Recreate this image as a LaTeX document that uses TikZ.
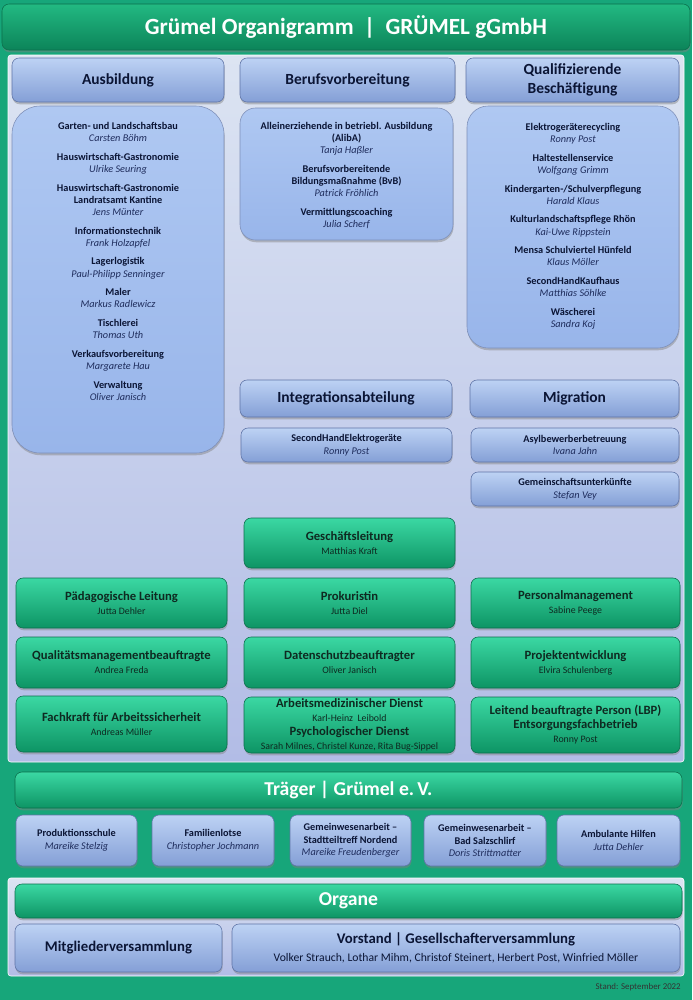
\documentclass[tikz,border=0pt]{standalone}
\usepackage{fontspec}
\setmainfont{Carlito}
\usepackage{tikz}
\usetikzlibrary{shadows}

\definecolor{seite}{HTML}{17A67A}
\definecolor{gruenOben}{HTML}{3BD8A3}
\definecolor{gruenMitte}{HTML}{18B383}
\definecolor{gruenUnten}{HTML}{0D9464}
\definecolor{gruenRand}{HTML}{0B6F4C}
\definecolor{titelOben}{HTML}{22B982}
\definecolor{titelUnten}{HTML}{0C8459}
\definecolor{blauOben}{HTML}{BDD2F4}
\definecolor{blauUnten}{HTML}{849FD6}
\definecolor{blauRand}{HTML}{5E73A6}
\definecolor{inhaltOben}{HTML}{AFC8F2}
\definecolor{inhaltUnten}{HTML}{98B5EA}
\definecolor{flaecheOben}{HTML}{DCE4F2}
\definecolor{flaecheUnten}{HTML}{B2BCE6}
\definecolor{schrift}{HTML}{0B1535}
\definecolor{namen}{HTML}{1E2C5C}
\definecolor{gruenSchrift}{HTML}{0E2A21}

\newcommand{\stelle}[2]{{\bfseries #1}\\{\itshape\color{namen} #2}}
\newcommand{\gtitel}[1]{{\fontsize{9}{10.5}\selectfont\bfseries #1}}

\tikzset{
  wh/.style 2 args={minimum width=#1*0.025cm, minimum height=#2*0.025cm},
  schatten/.style={drop shadow={shadow xshift=0.4pt, shadow yshift=-1.6pt, opacity=0.45}},
  flaeche/.style={top color=flaecheOben, bottom color=flaecheUnten, draw=white!60, rounded corners=2pt},
  balken/.style={draw=gruenRand, rounded corners=5pt, top color=gruenOben, middle color=gruenMitte, bottom color=gruenUnten,
    schatten, text=white, font=\fontsize{14}{16}\selectfont\bfseries, inner sep=0pt},
  kopf/.style={draw=blauRand, rounded corners=5pt, top color=blauOben, bottom color=blauUnten,
    schatten, text=schrift, font=\fontsize{11}{13}\selectfont\bfseries, align=center, inner sep=0pt},
  inhalt/.style={draw=blauRand!80, top color=inhaltOben, bottom color=inhaltUnten, schatten},
  liste/.style={text=schrift, font=\fontsize{7.3}{8.7}\selectfont, align=center, inner sep=0pt},
  klein/.style={draw=blauRand, rounded corners=5pt, top color=blauOben, bottom color=blauUnten,
    schatten, text=schrift, font=\fontsize{7.3}{9}\selectfont, align=center, inner sep=0pt},
  gruen/.style={draw=gruenRand, rounded corners=5pt, top color=gruenOben, middle color=gruenMitte, bottom color=gruenUnten,
    schatten, text=gruenSchrift, font=\fontsize{7}{10}\selectfont, align=center, inner sep=0pt}
}

\begin{document}
\begin{tikzpicture}[x=0.025cm, y=-0.025cm]
	% Background and panels
	\useasboundingbox (0,0) rectangle (692,1000);
	\fill[seite] (0,0) rectangle (692,1000);
	\draw[flaeche] (8,55) rectangle (684,762);
	\draw[flaeche] (8,878) rectangle (684,976);

	% Title
	\node[balken, wh={688}{46}, top color=titelOben, middle color=titelOben!50!titelUnten, bottom color=titelUnten,
		font=\fontsize{16.5}{19}\selectfont\bfseries] (Titel) at (346,27) {Grümel Organigramm~~|~~GRÜMEL gGmbH};

	% Column heads
	\node[kopf, wh={212}{44}] (Ausbildung) at (118,80) {Ausbildung};
	\node[kopf, wh={215}{44}] (Berufsvorbereitung) at (347.5,80) {Berufsvorbereitung};
	\node[kopf, wh={213}{44}] (Qualifizierung) at (572.5,80) {Qualifizierende\\Beschäftigung};

	% Column contents
	\node[inhalt, wh={212}{347}, rounded corners=20pt] (AusbildungBox) at (118,279.5) {};
	\node[liste, anchor=north] (AusbildungText) at (118,122) {
		\stelle{Garten- und Landschaftsbau}{Carsten Böhm}\\[4.5pt]
		\stelle{Hauswirtschaft-Gastronomie}{Ulrike Seuring}\\[4.5pt]
		{\bfseries Hauswirtschaft-Gastronomie}\\\stelle{Landratsamt Kantine}{Jens Münter}\\[4.5pt]
		\stelle{Informationstechnik}{Frank Holzapfel}\\[4.5pt]
		\stelle{Lagerlogistik}{Paul-Philipp Senninger}\\[4.5pt]
		\stelle{Maler}{Markus Radlewicz}\\[4.5pt]
		\stelle{Tischlerei}{Thomas Uth}\\[4.5pt]
		\stelle{Verkaufsvorbereitung}{Margarete Hau}\\[4.5pt]
		\stelle{Verwaltung}{Oliver Janisch}};

	\node[inhalt, wh={213}{132}, rounded corners=11pt] (BerufsBox) at (346.5,174) {};
	\node[liste, anchor=north] (BerufsText) at (346.5,122) {
		{\bfseries Alleinerziehende in betriebl. Ausbildung}\\\stelle{(AlibA)}{Tanja Haßler}\\[4.5pt]
		{\bfseries Berufsvorbereitende}\\\stelle{Bildungsmaßnahme (BvB)}{Patrick Fröhlich}\\[4.5pt]
		\stelle{Vermittlungscoaching}{Julia Scherf}};

	\node[inhalt, wh={212}{242}, rounded corners=15pt] (QualiBox) at (573,227) {};
	\node[liste, anchor=north] (QualiText) at (573,123) {
		\stelle{Elektrogeräterecycling}{Ronny Post}\\[4.5pt]
		\stelle{Haltestellenservice}{Wolfgang Grimm}\\[4.5pt]
		\stelle{Kindergarten-/Schulverpflegung}{Harald Klaus}\\[4.5pt]
		\stelle{Kulturlandschaftspflege Rhön}{Kai-Uwe Rippstein}\\[4.5pt]
		\stelle{Mensa Schulviertel Hünfeld}{Klaus Möller}\\[4.5pt]
		\stelle{SecondHandKaufhaus}{Matthias Söhlke}\\[4.5pt]
		\stelle{Wäscherei}{Sandra Koj}};

	% Integration and migration
	\node[kopf, wh={212}{37}] (Integration) at (346,398.5) {Integrationsabteilung};
	\node[kopf, wh={209}{37}] (Migration) at (574.5,398.5) {Migration};
	\node[klein, wh={211}{34}] (SecondHand) at (346.5,445) {\stelle{SecondHandElektrogeräte}{Ronny Post}};
	\node[klein, wh={208}{34}] (Asyl) at (575,445) {\stelle{Asylbewerberbetreuung}{Ivana Jahn}};
	\node[klein, wh={208}{34}] (Unterkunft) at (575,489) {\stelle{Gemeinschaftsunterkünfte}{Stefan Vey}};

	% Management
	\node[gruen, wh={211}{50}] (Leitung) at (349.5,543) {\gtitel{Geschäftsleitung}\\Matthias Kraft};

	\node[gruen, wh={211}{50}] (Paedagogik) at (121.5,603) {\gtitel{Pädagogische Leitung}\\Jutta Dehler};
	\node[gruen, wh={211}{50}] (Prokura) at (349.5,603) {\gtitel{Prokuristin}\\Jutta Diel};
	\node[gruen, wh={209}{50}] (Personal) at (575.5,603) {\gtitel{Personalmanagement}\\Sabine Peege};

	\node[gruen, wh={211}{51}] (Qualitaet) at (121.5,662.5) {\gtitel{Qualitätsmanagementbeauftragte}\\Andrea Freda};
	\node[gruen, wh={211}{51}] (Datenschutz) at (349.5,662.5) {\gtitel{Datenschutzbeauftragter}\\Oliver Janisch};
	\node[gruen, wh={209}{51}] (Projekt) at (575.5,662.5) {\gtitel{Projektentwicklung}\\Elvira Schulenberg};

	\node[gruen, wh={211}{56}] (Sicherheit) at (121.5,724) {\gtitel{Fachkraft für Arbeitssicherheit}\\Andreas Müller};
	\node[gruen, wh={211}{56}] (Dienste) at (349.5,725) {\gtitel{Arbeitsmedizinischer Dienst}\\Karl-Heinz~ Leibold\\
		\gtitel{Psychologischer Dienst}\\Sarah Milnes, Christel Kunze, Rita Bug-Sippel};
	\node[gruen, wh={209}{56}] (Entsorgung) at (575.5,725) {\gtitel{Leitend beauftragte Person (LBP)}\\
		\gtitel{Entsorgungsfachbetrieb}\\Ronny Post};

	% Traeger
	\node[balken, wh={667}{36}] (Traeger) at (348.5,790) {Träger~|~Grümel e.\,V.};
	\node[klein, wh={121}{51}] (Produktion) at (76.5,840.5) {\stelle{Produktionsschule}{Mareike Stelzig}};
	\node[klein, wh={122}{51}] (Lotse) at (213,840.5) {\stelle{Familienlotse}{Christopher Jochmann}};
	\node[klein, wh={121}{51}] (Nordend) at (350.5,840.5) {{\bfseries Gemeinwesenarbeit --}\\
		\stelle{Stadtteiltreff Nordend}{Mareike Freudenberger}};
	\node[klein, wh={122}{51}] (Salzschlirf) at (485,840.5) {{\bfseries Gemeinwesenarbeit --}\\
		\stelle{Bad Salzschlirf}{Doris Strittmatter}};
	\node[klein, wh={123}{51}] (Ambulant) at (618.5,840.5) {\stelle{Ambulante Hilfen}{Jutta Dehler}};

	% Organe
	\node[balken, wh={667}{34}] (Organe) at (348.5,901) {Organe};
	\node[kopf, wh={207}{48}, font=\fontsize{10.5}{12}\selectfont\bfseries] (Mitglieder) at (118.5,948) {Mitgliederversammlung};
	\node[kopf, wh={448}{48}, font=\fontsize{10.5}{13}\selectfont] (Vorstand) at (456,948)
		{\textbf{Vorstand~|~Gesellschafterversammlung}\\
		{\fontsize{8.3}{10}\selectfont Volker Strauch, Lothar Mihm, Christof Steinert, Herbert Post, Winfried Möller}};

	\node[anchor=east, text=black!80, font=\fontsize{6.3}{7}\selectfont, inner sep=0pt] (Stand) at (681,987) {Stand: September 2022};
\end{tikzpicture}
\end{document}
